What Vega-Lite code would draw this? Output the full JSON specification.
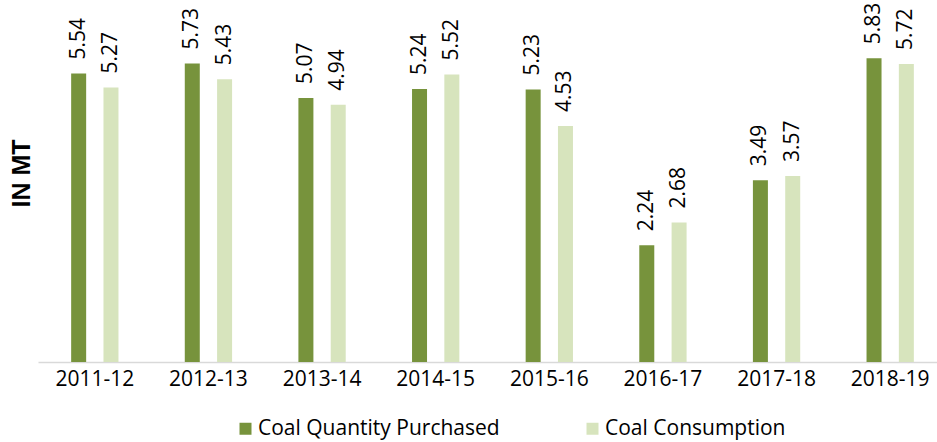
{
  "$schema": "https://vega.github.io/schema/vega-lite/v6.json",
  "width": 909,
  "height": 362,
  "autosize": "none",
  "padding": {"left": 38, "top": 0, "right": 0, "bottom": 80},
  "background": "white",
  "config": {"view": {"stroke": null}, "font": "Open Sans"},
  "data": {"values": [
    {"year": "2011-12", "series": "Coal Quantity Purchased", "value": 5.54},
    {"year": "2011-12", "series": "Coal Consumption", "value": 5.27},
    {"year": "2012-13", "series": "Coal Quantity Purchased", "value": 5.73},
    {"year": "2012-13", "series": "Coal Consumption", "value": 5.43},
    {"year": "2013-14", "series": "Coal Quantity Purchased", "value": 5.07},
    {"year": "2013-14", "series": "Coal Consumption", "value": 4.94},
    {"year": "2014-15", "series": "Coal Quantity Purchased", "value": 5.24},
    {"year": "2014-15", "series": "Coal Consumption", "value": 5.52},
    {"year": "2015-16", "series": "Coal Quantity Purchased", "value": 5.23},
    {"year": "2015-16", "series": "Coal Consumption", "value": 4.53},
    {"year": "2016-17", "series": "Coal Quantity Purchased", "value": 2.24},
    {"year": "2016-17", "series": "Coal Consumption", "value": 2.68},
    {"year": "2017-18", "series": "Coal Quantity Purchased", "value": 3.49},
    {"year": "2017-18", "series": "Coal Consumption", "value": 3.57},
    {"year": "2018-19", "series": "Coal Quantity Purchased", "value": 5.83},
    {"year": "2018-19", "series": "Coal Consumption", "value": 5.72}
  ]},
  "encoding": {
    "x": {
      "field": "year", "type": "nominal", "sort": null,
      "scale": {"paddingInner": 0, "paddingOuter": 0},
      "axis": {"title": null, "labelAngle": 0, "labelFontSize": 21, "labelColor": "black", "labelPadding": 6, "ticks": false, "domainColor": "#d9d9d9", "domainWidth": 1.5}
    },
    "xOffset": {
      "field": "series", "type": "nominal",
      "sort": ["Coal Quantity Purchased", "Coal Consumption"],
      "scale": {"paddingInner": 0.483, "paddingOuter": 1.2}
    },
    "y": {
      "field": "value", "type": "quantitative",
      "scale": {"domain": [0, 6.95]},
      "axis": {"title": "IN MT", "labels": false, "ticks": false, "domain": false, "grid": false,
        "titleFont": "Liberation Sans", "titleFontWeight": "bold", "titleFontSize": 25, "titleColor": "black",
        "titleX": -17, "titleY": 173, "titleAngle": 270, "titleAlign": "center", "titleBaseline": "middle"}
    }
  },
  "layer": [
    {
      "mark": {"type": "bar", "width": 15},
      "encoding": {
        "color": {
          "field": "series", "type": "nominal",
          "scale": {"domain": ["Coal Quantity Purchased", "Coal Consumption"], "range": ["#77933C", "#D7E4BD"]},
          "legend": {"orient": "none", "legendX": 197, "legendY": 418, "direction": "horizontal", "title": null,
            "symbolType": "square", "symbolSize": 144, "symbolStrokeWidth": 0, "symbolOpacity": 1,
            "labelFontSize": 21, "labelColor": "black", "labelOffset": 2, "labelLimit": 0, "columnPadding": 82}
        }
      }
    },
    {
      "mark": {"type": "text", "angle": 270, "align": "left", "baseline": "middle", "dx": 14, "fontSize": 21, "color": "black"},
      "encoding": {"text": {"field": "value", "type": "quantitative", "format": ".2f"}}
    }
  ]
}
